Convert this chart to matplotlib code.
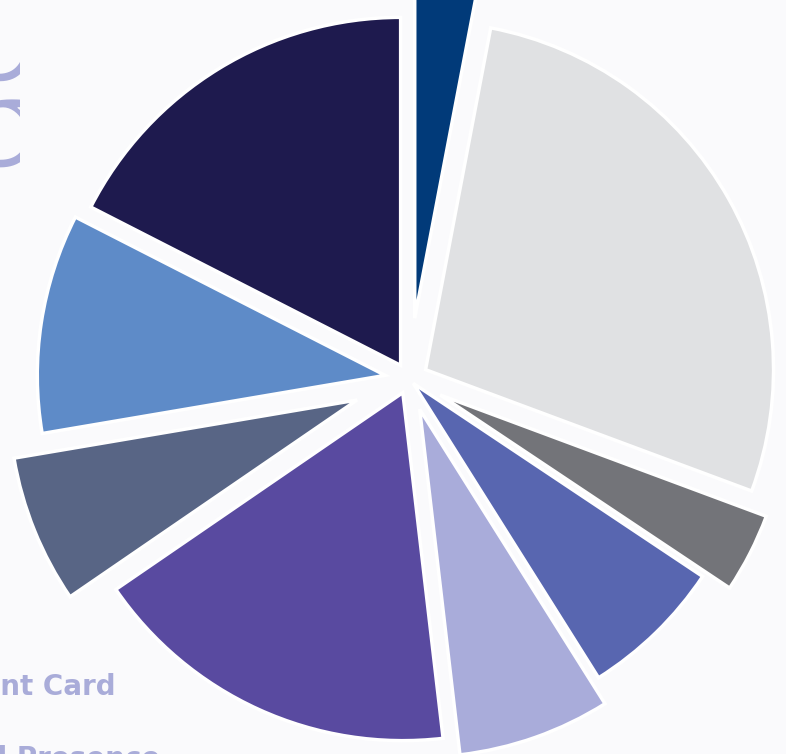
import matplotlib.pyplot as plt
from matplotlib.transforms import Bbox

# share of each slice (percent), clockwise from 12 o'clock
shares = [3.0, 27.7, 3.7, 6.7, 7.1, 17.3, 6.9, 10.2, 17.5]
colors = ['#013a79', '#e0e1e3', '#737479', '#5866b0', '#a9acda',
          '#594aa0', '#586585', '#5e8bc8', '#1e1a4e']
# how far each slice is pulled out (pixels)
explode_px = [61, 19, 35, 6, 32, 15, 56, 24, 16]

big_number = '56'
legend_lines = ['Payment Card', 'Brand Presence']

bg = '#fafafc'
lav = '#a9acd9'

W, H = 786, 754
fig = plt.figure(figsize=(W / 100, H / 100), dpi=100, facecolor=bg)
# axes in pixel units, top 8px strip left as a border
ax = fig.add_axes([0, 0, 1, (H - 8) / H])
ax.set_facecolor(bg)

wedges, _ = ax.pie(shares, colors=colors, explode=explode_px, radius=348,
                   center=(409, -379), startangle=90, counterclock=False,
                   wedgeprops=dict(edgecolor='white', linewidth=2.5))

ax.set_xlim(0, W)
ax.set_ylim(-H, -8)
ax.set_aspect('auto')
ax.axis('off')

# big rotated number, only a thin strip of it shows at the left edge
t = fig.text(-46 / W, 1 - 14 / H, big_number, rotation=-90, rotation_mode='anchor',
             ha='left', va='baseline', fontsize=108, color=lav,
             family=['Open Sans', 'DejaVu Sans'], fontweight='light')
t.set_clip_box(Bbox.from_extents(0, 0, 20, H))

# legend labels, partly off the canvas
fig.text(116 / W, 1 - 695 / H, legend_lines[0], ha='right', va='baseline',
         fontsize=20, color=lav, family='DejaVu Sans', fontweight='bold')
fig.text(160 / W, 1 - 767 / H, legend_lines[1], ha='right', va='baseline',
         fontsize=20, color=lav, family='DejaVu Sans', fontweight='bold')

fig.savefig('out.png', dpi=100, facecolor=bg)
